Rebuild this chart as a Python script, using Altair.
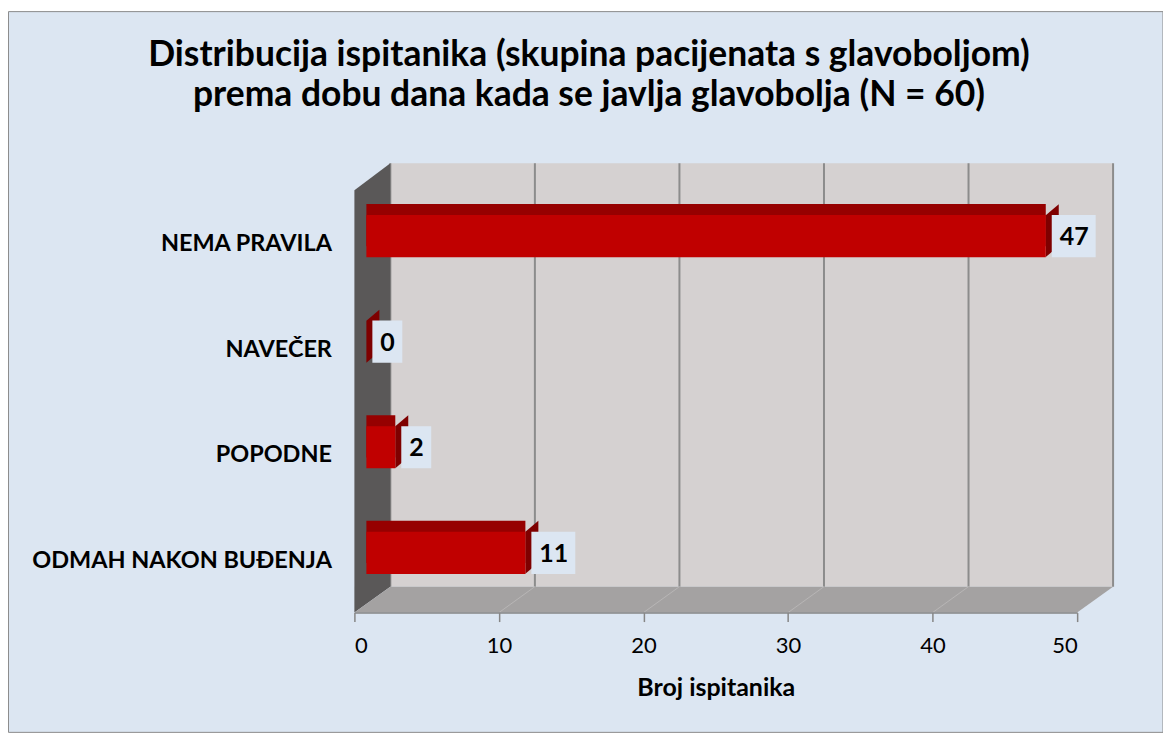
import altair as alt
import pandas as pd

# ---------------- data ----------------
categories = ["NEMA PRAVILA", "NAVEČER", "POPODNE", "ODMAH NAKON BUĐENJA"]
values = [47, 0, 2, 11]
x_ticks = [0, 10, 20, 30, 40, 50]

title_lines = [
    "Distribucija ispitanika (skupina pacijenata s glavoboljom)",
    "prema dobu dana kada se javlja glavobolja (N = 60)",
]
x_title = "Broj ispitanika"

df = pd.DataFrame({"kategorija": categories, "broj": values})
df["label"] = df["broj"].astype(str)
ticks_df = pd.DataFrame({"t": x_ticks})
anchor_df = pd.DataFrame({"a": [0]})

# ---------------- layout / style ----------------
W, H = 724, 423
PAD = {"left": 347, "top": 175, "right": 86, "bottom": 128}
DEPTH_X = 36
WALL_TOP_FRONT, WALL_TOP_BACK = 7, -20
FLOOR_FRONT, FLOOR_BACK = 430, 404
BAR_SHIFT = 12
FACE_DX, FACE_DY = 13, 11

BG = "#DCE6F2"
BACK_WALL = "#D5D1D1"
SIDE_WALL = "#5A5858"
FLOOR = "#A4A2A2"
GRID = "#8C8C8C"
RED = "#C00000"
RED_TOP = "#960000"
RED_SIDE = "#7E0000"
FONT = "Lato"

xscale = alt.Scale(domain=[0, 50], nice=False, zero=True)
yscale = alt.Scale(domain=categories, paddingInner=0.6, paddingOuter=0.3)

X = alt.X(
    "broj:Q",
    scale=xscale,
    axis=alt.Axis(
        values=x_ticks, grid=False, offset=7, domainColor="#868686", domainWidth=1.5,
        tickColor="#868686", tickSize=9, tickWidth=1.5, labelFont=FONT, labelFontSize=22,
        labelColor="black", labelPadding=14, title=x_title, titleFont=FONT,
        titleFontSize=25, titleFontWeight="bold", titleColor="black", titlePadding=19,
        zindex=1,
    ),
)
Y = alt.Y(
    "kategorija:N",
    scale=yscale,
    sort=categories,
    axis=alt.Axis(
        ticks=False, domain=False, labelFont=FONT, labelFontSize=23.5,
        labelFontWeight="bold", labelColor="black", labelPadding=23,
        labelOffset=8, labelLimit=0, title=None, zindex=1,
    ),
)

# outer box
frame = alt.Chart(anchor_df).mark_rect(fill=BG, stroke="#8C8C8C", strokeWidth=1).encode(
    x=alt.value(-346.5), x2=alt.value(W + 86), y=alt.value(-172), y2=alt.value(550)
)

# back wall
back_wall = alt.Chart(anchor_df).mark_rect(
    fill=BACK_WALL, xOffset=DEPTH_X, x2Offset=DEPTH_X
).encode(
    x=alt.datum(0, scale=xscale), x2=alt.datum(50),
    y=alt.value(WALL_TOP_BACK), y2=alt.value(FLOOR_BACK),
)

grid = alt.Chart(ticks_df).mark_rule(color=GRID, strokeWidth=2, xOffset=DEPTH_X).encode(
    x=alt.X("t:Q", scale=xscale), y=alt.value(WALL_TOP_BACK), y2=alt.value(FLOOR_BACK)
)

left_path = (
    f"M0,{WALL_TOP_FRONT} L{DEPTH_X},{WALL_TOP_BACK} L{DEPTH_X},{FLOOR_BACK} "
    f"L0,{FLOOR_FRONT} Z"
)
left_wall = alt.Chart(anchor_df).mark_point(
    shape=left_path, size=4, filled=True, fill=SIDE_WALL, opacity=1, strokeWidth=0
).encode(x=alt.X("a:Q", scale=xscale), y=alt.value(0))

floor_path = (
    f"M0,{FLOOR_FRONT} L{W},{FLOOR_FRONT} L{W + DEPTH_X},{FLOOR_BACK} "
    f"L{DEPTH_X},{FLOOR_BACK} Z"
)
floor = alt.Chart(anchor_df).mark_point(
    shape=floor_path, size=4, filled=True, fill=FLOOR, opacity=1, strokeWidth=0
).encode(x=alt.X("a:Q", scale=xscale), y=alt.value(0))

floor_lines = alt.Chart(ticks_df).transform_filter("datum.t > 0 && datum.t < 50").mark_point(
    shape=f"M0,{FLOOR_FRONT} L{DEPTH_X},{FLOOR_BACK}", size=4, filled=False,
    stroke="#B8B6B6", strokeWidth=1, opacity=1,
).encode(x=alt.X("t:Q", scale=xscale), y=alt.value(0))

base = alt.Chart(df)

top_face = base.transform_filter("datum.broj > 0").mark_bar(
    color=RED_TOP, xOffset=BAR_SHIFT, x2Offset=BAR_SHIFT + FACE_DX, yOffset=-FACE_DY
).encode(x=X, y=Y)

side_face = base.mark_point(
    shape=f"M0,-21 L{FACE_DX},{-21 - FACE_DY} L{FACE_DX},{21 - FACE_DY} L0,21 Z",
    size=4, filled=True, fill=RED_SIDE, opacity=1, strokeWidth=0, xOffset=BAR_SHIFT,
).encode(x=X, y=Y)

front = base.mark_bar(color=RED, xOffset=BAR_SHIFT, x2Offset=BAR_SHIFT).encode(x=X, y=Y)

box1 = base.transform_filter("datum.broj < 10").mark_bar(
    color=BG, xOffset=BAR_SHIFT + 6 + 30, x2Offset=BAR_SHIFT + 6
).encode(x=X, x2=alt.X2("broj:Q"), y=Y)
box2 = base.transform_filter("datum.broj >= 10").mark_bar(
    color=BG, xOffset=BAR_SHIFT + 6 + 44, x2Offset=BAR_SHIFT + 6
).encode(x=X, x2=alt.X2("broj:Q"), y=Y)

labels = base.mark_text(
    align="left", baseline="middle", dx=BAR_SHIFT + 14, dy=1, font=FONT,
    fontSize=25, fontWeight="bold", color="black",
).encode(x=X, y=Y, text="label:N")

chart = alt.layer(
    frame, back_wall, grid, left_wall, floor, floor_lines,
    top_face, side_face, front, box1, box2, labels,
).properties(
    width=W, height=H,
    padding=PAD,
    autosize=alt.AutoSizeParams(type="none"),
    background="white",
    title=alt.TitleParams(
        text=title_lines, font=FONT, fontSize=35.5, fontWeight="bold", color="black",
        anchor="middle", dx=-127, lineHeight=41, offset=-103, zindex=1,
    ),
).configure_view(stroke=None)

chart.save("out.html", embed_options={"renderer": "svg", "actions": False})
